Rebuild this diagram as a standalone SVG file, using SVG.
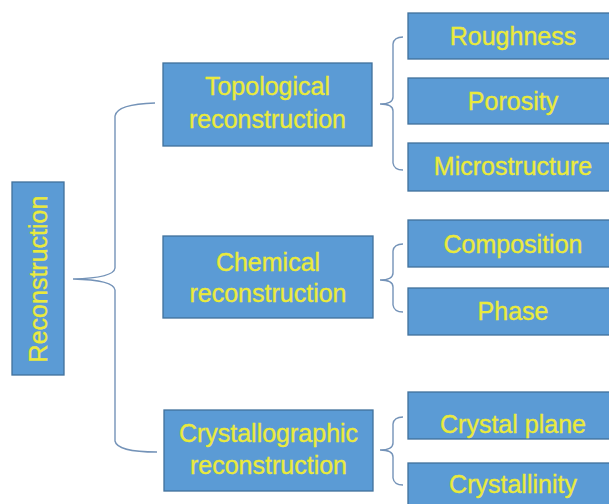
<svg xmlns="http://www.w3.org/2000/svg" width="609" height="504" viewBox="0 0 609 504">
<style>
.box{fill:#5B9BD5;stroke:#41719C;stroke-width:1.3}
.t{font-family:"Liberation Sans",Arial,sans-serif;font-size:25px;fill:#EAEA3C;stroke:#EAEA3C;stroke-width:0.35;text-anchor:middle}
.br{fill:none;stroke:#7493B8;stroke-width:1.4}
</style>
<rect width="609" height="504" fill="#fff"/>
<g id="connectors">
<path class="br" d="M155,103 Q117,104 115,116 L115,268 Q114,278 73,279 Q114,280 115,290 L115,441 Q117,452 157,452"/>
<path class="br" d="M403,37 Q394,37 393,44 L393,97 Q393,104 380,104 Q393,104 393,111 L393,163 Q394,170 403,170"/>
<path class="br" d="M403,244 Q394,244 393,251 L393,273 Q393,280 380,280 Q393,280 393,287 L393,305 Q394,312 403,312"/>
<path class="br" d="M403,417 Q394,417 393,424 L393,443 Q393,450 380,450 Q393,450 393,457 L393,478 Q394,485 403,485"/>
</g>
<g id="reconstruction">
<rect class="box" x="12" y="182" width="52" height="193"/>
<text class="t" transform="translate(47,279) rotate(-90)">Reconstruction</text>
</g>
<g id="topological">
<rect class="box" x="163" y="63" width="209" height="83"/>
<text class="t" x="267.5" y="95">Topological</text>
<text class="t" x="267.5" y="128">reconstruction</text>
</g>
<g id="chemical">
<rect class="box" x="163" y="236" width="210" height="82"/>
<text class="t" x="268" y="271">Chemical</text>
<text class="t" x="268" y="302">reconstruction</text>
</g>
<g id="crystallographic">
<rect class="box" x="164" y="410" width="209" height="81"/>
<text class="t" x="268.5" y="442">Crystallographic</text>
<text class="t" x="268.5" y="474">reconstruction</text>
</g>
<g id="roughness">
<rect class="box" x="408" y="13" width="212" height="46"/>
<text class="t" x="513" y="45">Roughness</text>
</g>
<g id="porosity">
<rect class="box" x="408" y="78" width="212" height="46"/>
<text class="t" x="513" y="110">Porosity</text>
</g>
<g id="microstructure">
<rect class="box" x="408" y="143" width="212" height="48"/>
<text class="t" x="513" y="175">Microstructure</text>
</g>
<g id="composition">
<rect class="box" x="408" y="220" width="212" height="47"/>
<text class="t" x="513" y="253">Composition</text>
</g>
<g id="phase">
<rect class="box" x="408" y="288" width="212" height="47"/>
<text class="t" x="513" y="320">Phase</text>
</g>
<g id="crystal-plane">
<rect class="box" x="408" y="392" width="212" height="47"/>
<text class="t" x="513" y="433">Crystal plane</text>
</g>
<g id="crystallinity">
<rect class="box" x="408" y="463" width="212" height="50"/>
<text class="t" x="513" y="493">Crystallinity</text>
</g>
</svg>
